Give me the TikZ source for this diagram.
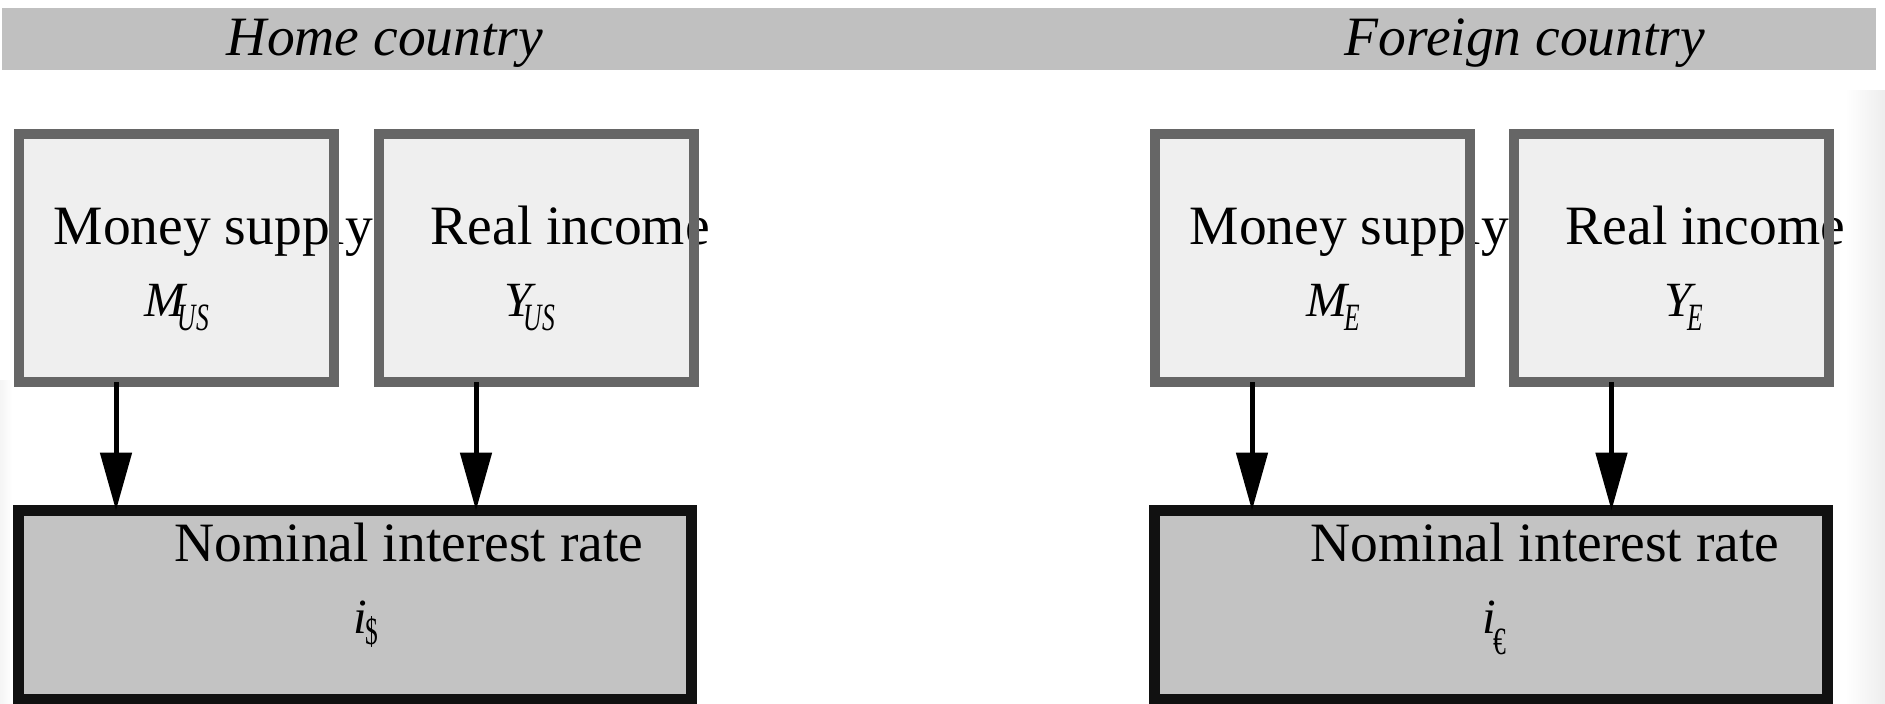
\documentclass[tikz,border=0pt]{standalone}
\usepackage{fontspec}
\setmainfont{Liberation Serif}
\usepackage{graphicx}
\usepackage{tikz}
\usetikzlibrary{arrows.meta, calc}
\definecolor{cBand}{RGB}{192,192,192}
\definecolor{cEdge}{RGB}{102,102,102}
\definecolor{cPale}{RGB}{239,239,239}
\definecolor{cRate}{RGB}{195,195,195}
\definecolor{cDark}{RGB}{17,17,17}
% symbol with a lowered, narrow index: {letter}{index}{kern}{drop}
\newcommand{\vsym}[4]{{\fontsize{14}{16}\selectfont\itshape #1\kern#3\raisebox{-#4}{\fontsize{11}{11}\selectfont\scalebox{0.66}[1]{#2}}}}
\tikzset{
	inbox/.style    ={rectangle, fill=cPale, minimum width=31.5mm, minimum height=24.8mm, inner sep=0pt, outer sep=0pt},
	ratebox/.style  ={rectangle, fill=cRate, minimum width=67.3mm, minimum height=18.95mm, inner sep=0pt, outer sep=0pt},
	edgeframe/.style={draw=cEdge, line width=1mm},
	rateframe/.style={draw=cDark, line width=1.15mm},
	lbl/.style      ={anchor=base west, inner sep=0pt, font=\fontsize{15.8}{19}\selectfont},
	hdr/.style      ={anchor=base, inner sep=0pt, font=\fontsize{15.8}{19}\selectfont\itshape},
	sig/.style      ={-{Triangle[length=5.8mm, width=3.1mm]}, line width=0.5mm},
}

\begin{document}
\begin{tikzpicture}[x=0.1mm, y=-0.1mm]
	\useasboundingbox (0,0) rectangle (1885,703);
	\shade[left color=white, right color=black!7] (1845,90) rectangle (1885,703);
	\shade[left color=black!4, right color=white] (0,380) rectangle (12,703);
	% header band
	\fill[cBand] (2,8) rectangle (1876,70);
	\node[hdr] (hH) at (385,55) {Home country};
	\node[hdr] (hF) at (1525,55) {Foreign country};
	% boxes (fill first, frames over the text)
	\node[inbox] (msH) at (176,258) {}; \node[inbox] (riH) at (536,258) {};
	\node[ratebox] (niH) at (355,605.25) {};
	\node[inbox] (msF) at (1312,258) {}; \node[inbox] (riF) at (1671.5,258) {};
	\node[ratebox] (niF) at (1491,605.25) {};
	% home country
	\node[lbl] (tMsH) at (53,244) {Money supply};
	\node[lbl] (vMsH) at (144,316) {\vsym{M}{US}{-2.3pt}{4pt}};
	\node[lbl] (tRiH) at (430,244) {Real income};
	\node[lbl] (vRiH) at (504,316) {\vsym{Y}{US}{-2.4pt}{4pt}};
	\node[lbl] (tNiH) at (174,561) {Nominal interest rate};
	\node[lbl] (vNiH) at (353,633) {\vsym{i}{\upshape\$}{-0.5pt}{3.4pt}};
	% foreign country
	\node[lbl] (tMsF) at (1189,244) {Money supply};
	\node[lbl] (vMsF) at (1306,316) {\vsym{M}{E}{-1pt}{4pt}};
	\node[lbl] (tRiF) at (1565,244) {Real income};
	\node[lbl] (vRiF) at (1664,316) {\vsym{Y}{E}{-1.4pt}{4pt}};
	\node[lbl] (tNiF) at (1310,561) {Nominal interest rate};
	\node[lbl] (vNiF) at (1482,633) {\vsym{i}{\upshape €}{-0.8pt}{6pt}};
	\draw[edgeframe] (msH.north west) rectangle (msH.south east); \draw[edgeframe] (riH.north west) rectangle (riH.south east);
	\draw[edgeframe] (msF.north west) rectangle (msF.south east); \draw[edgeframe] (riF.north west) rectangle (riF.south east);
	\draw[rateframe] (niH.north west) rectangle (niH.south east); \draw[rateframe] (niF.north west) rectangle (niF.south east);
	% influences
	\draw[sig] ([xshift=-6mm]msH.south) -- ([xshift=-6mm]msH.south |- niH.north); \draw[sig] ([xshift=-6mm]riH.south) -- ([xshift=-6mm]riH.south |- niH.north);
	\draw[sig] ([xshift=-6mm]msF.south) -- ([xshift=-6mm]msF.south |- niF.north); \draw[sig] ([xshift=-6mm]riF.south) -- ([xshift=-6mm]riF.south |- niF.north);
\end{tikzpicture}
\end{document}
